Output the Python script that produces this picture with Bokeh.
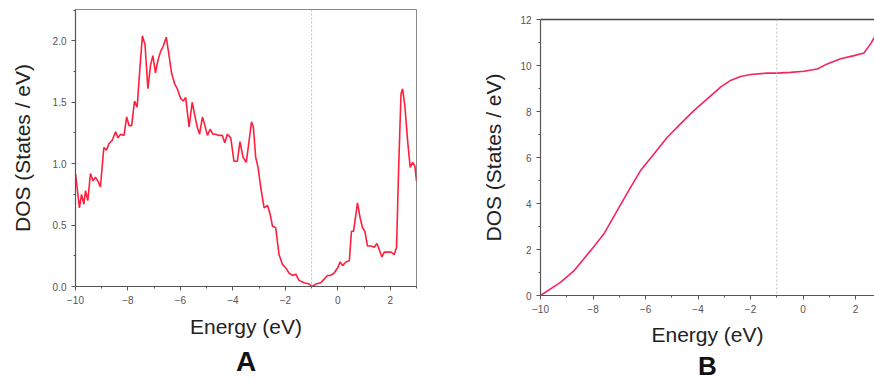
from bokeh.plotting import figure
from bokeh.models import Range1d, Span, Title, LinearAxis, FixedTicker, CustomJSTickFormatter
from bokeh.layouts import row
from bokeh.embed import file_html
from bokeh.resources import INLINE

# ---- Panel A: DOS ----
energy_a = [-10.0, -9.94, -9.85, -9.77, -9.68, -9.62, -9.53, -9.43, -9.33, -9.24, -9.15, -9.05,
            -8.92, -8.82, -8.73, -8.60, -8.47, -8.38, -8.28, -8.15, -8.05, -7.96, -7.86, -7.75,
            -7.65, -7.54, -7.45, -7.35, -7.24, -7.14, -7.05, -6.95, -6.86, -6.76, -6.65, -6.54,
            -6.44, -6.34, -6.22, -6.12, -5.99, -5.89, -5.80, -5.67, -5.55, -5.46, -5.36, -5.27,
            -5.16, -5.08, -4.97, -4.87, -4.76, -4.66, -4.53, -4.40, -4.31, -4.21, -4.08, -3.96,
            -3.83, -3.73, -3.61, -3.49, -3.38, -3.29, -3.22, -3.13, -3.04, -2.94, -2.81, -2.68,
            -2.58, -2.49, -2.37, -2.24, -2.11, -1.98, -1.86, -1.73, -1.60, -1.48, -1.28, -1.09,
            -0.97, -0.84, -0.65, -0.52, -0.39, -0.27, -0.14, -0.01, 0.09, 0.18, 0.31, 0.44,
            0.52, 0.60, 0.69, 0.75, 0.85, 0.94, 1.03, 1.13, 1.26, 1.39, 1.49, 1.58, 1.68, 1.77,
            1.90, 2.03, 2.15, 2.24, 2.32, 2.41, 2.47, 2.56, 2.66, 2.76, 2.85, 2.94, 3.0]
dos_a = [0.92, 0.81, 0.64, 0.75, 0.67, 0.78, 0.70, 0.92, 0.86, 0.89, 0.86, 0.81,
         1.13, 1.11, 1.16, 1.19, 1.26, 1.21, 1.24, 1.23, 1.38, 1.31, 1.31, 1.51,
         1.46, 1.79, 2.04, 1.97, 1.61, 1.80, 1.88, 1.74, 1.84, 1.91, 1.96, 2.03,
         1.89, 1.74, 1.65, 1.61, 1.53, 1.51, 1.54, 1.30, 1.50, 1.40, 1.30, 1.24,
         1.38, 1.32, 1.23, 1.28, 1.24, 1.24, 1.23, 1.23, 1.17, 1.24, 1.21, 1.02,
         1.02, 1.18, 1.05, 1.01, 1.19, 1.34, 1.30, 1.05, 0.97, 0.81, 0.64, 0.66,
         0.59, 0.49, 0.48, 0.26, 0.18, 0.15, 0.11, 0.09, 0.10, 0.05, 0.03, 0.02,
         0.0, 0.02, 0.03, 0.06, 0.09, 0.09, 0.11, 0.15, 0.20, 0.17, 0.20, 0.21,
         0.45, 0.45, 0.59, 0.68, 0.56, 0.48, 0.45, 0.33, 0.33, 0.32, 0.35, 0.30, 0.24, 0.28,
         0.28, 0.28, 0.26, 0.32, 0.97, 1.57, 1.61, 1.46, 1.19, 0.97, 1.01, 0.98, 0.86]

# ---- Panel B: integrated DOS ----
energy_b = [-10.0, -9.24, -8.73, -8.10, -7.59, -7.08, -6.57, -6.19, -5.68, -5.17, -4.67, -4.16,
            -3.65, -3.14, -2.76, -2.38, -2.00, -1.37, -0.98, -0.48, 0.03, 0.54, 0.92, 1.43,
            1.94, 2.32, 2.57, 2.72, 3.0]
dos_b = [0.0, 0.57, 1.07, 1.94, 2.67, 3.69, 4.70, 5.43, 6.15, 6.88, 7.46, 8.04,
         8.55, 9.06, 9.35, 9.52, 9.61, 9.67, 9.67, 9.70, 9.75, 9.85, 10.07, 10.29,
         10.43, 10.54, 10.94, 11.23, 11.75]

x_ticks = [-10, -8, -6, -4, -2, 0, 2]
y_ticks_a = [0.0, 0.5, 1.0, 1.5, 2.0]
y_ticks_b = [0, 2, 4, 6, 8, 10, 12]
fermi = -1.0

FONT = "Liberation Sans"


def style(p, yticks, ymax, xmax):
    p.x_range = Range1d(-10, xmax)
    p.y_range = Range1d(0, ymax)
    p.xgrid.visible = False
    p.ygrid.visible = False
    p.frame_align = False
    for ax in (p.xaxis[0], p.yaxis[0]):
        ax.major_tick_out = 4
        ax.major_tick_in = 0
        ax.minor_tick_out = 2
        ax.minor_tick_in = 0
        ax.axis_line_color = "#555555"
        ax.axis_line_width = 1.2
        ax.major_tick_line_color = "#555555"
        ax.minor_tick_line_color = "#555555"
        ax.major_label_text_font = FONT
        ax.major_label_text_font_size = "10px"
        ax.major_label_text_color = "#555555"
        ax.axis_label_text_font = FONT
        ax.axis_label_text_font_size = "21px"
        ax.axis_label_text_font_style = "normal"
        ax.axis_label_text_color = "#222222"
    p.xaxis[0].ticker = FixedTicker(ticks=x_ticks, minor_ticks=[v + 1 for v in x_ticks])
    p.yaxis[0].ticker = FixedTicker(ticks=yticks,
                                    minor_ticks=[v + (yticks[1] - yticks[0]) / 2 for v in yticks])
    p.xaxis[0].axis_label = "Energy (eV)"
    p.yaxis[0].axis_label = "DOS (States / eV)"
    p.add_layout(Span(location=fermi, dimension="height", line_color="#bbbbbb",
                      line_width=1, line_dash="2 2"))


# Panel A
pa = figure(width=440, height=381, output_backend="svg", toolbar_location=None,
            min_border_left=75, min_border_right=24, min_border_top=9, min_border_bottom=95,
            background_fill_color="white", border_fill_color="white")
style(pa, y_ticks_a, 2.255, 3.0)
pa.yaxis[0].formatter = CustomJSTickFormatter(code="return tick.toFixed(1);")
pa.yaxis[0].axis_label_standoff = 16
pa.xaxis[0].axis_label_standoff = 8
pa.outline_line_color = "#888888"
pa.outline_line_width = 1
pa.line(energy_a, dos_a, line_color="#ff1f3d", line_width=1.6)
pa.add_layout(Title(text="A", align="center", text_font=FONT, text_font_size="28px",
                    text_font_style="bold", text_color="#111111", standoff=7), "below")

# Panel B
pb = figure(width=434, height=381, output_backend="svg", toolbar_location=None,
            min_border_left=100, min_border_right=0, min_border_top=19, min_border_bottom=86,
            background_fill_color="white", border_fill_color="white")
style(pb, y_ticks_b, 12, 2.72)
pb.yaxis[0].axis_label_standoff = 12
pb.xaxis[0].axis_label_standoff = 7
pb.outline_line_color = None
top_ax = LinearAxis(ticker=FixedTicker(ticks=[]), major_tick_line_color=None,
                    minor_tick_line_color=None, axis_line_color="#444444",
                    axis_line_width=1.6)
pb.add_layout(top_ax, "above")
pb.line(energy_b, dos_b, line_color="#f2265f", line_width=1.6)
pb.add_layout(Title(text="B", align="center", text_font=FONT, text_font_size="26px",
                    text_font_style="bold", text_color="#111111", standoff=0), "below")

layout = row(pa, pb)
open("out.html", "w").write(file_html(layout, INLINE))
